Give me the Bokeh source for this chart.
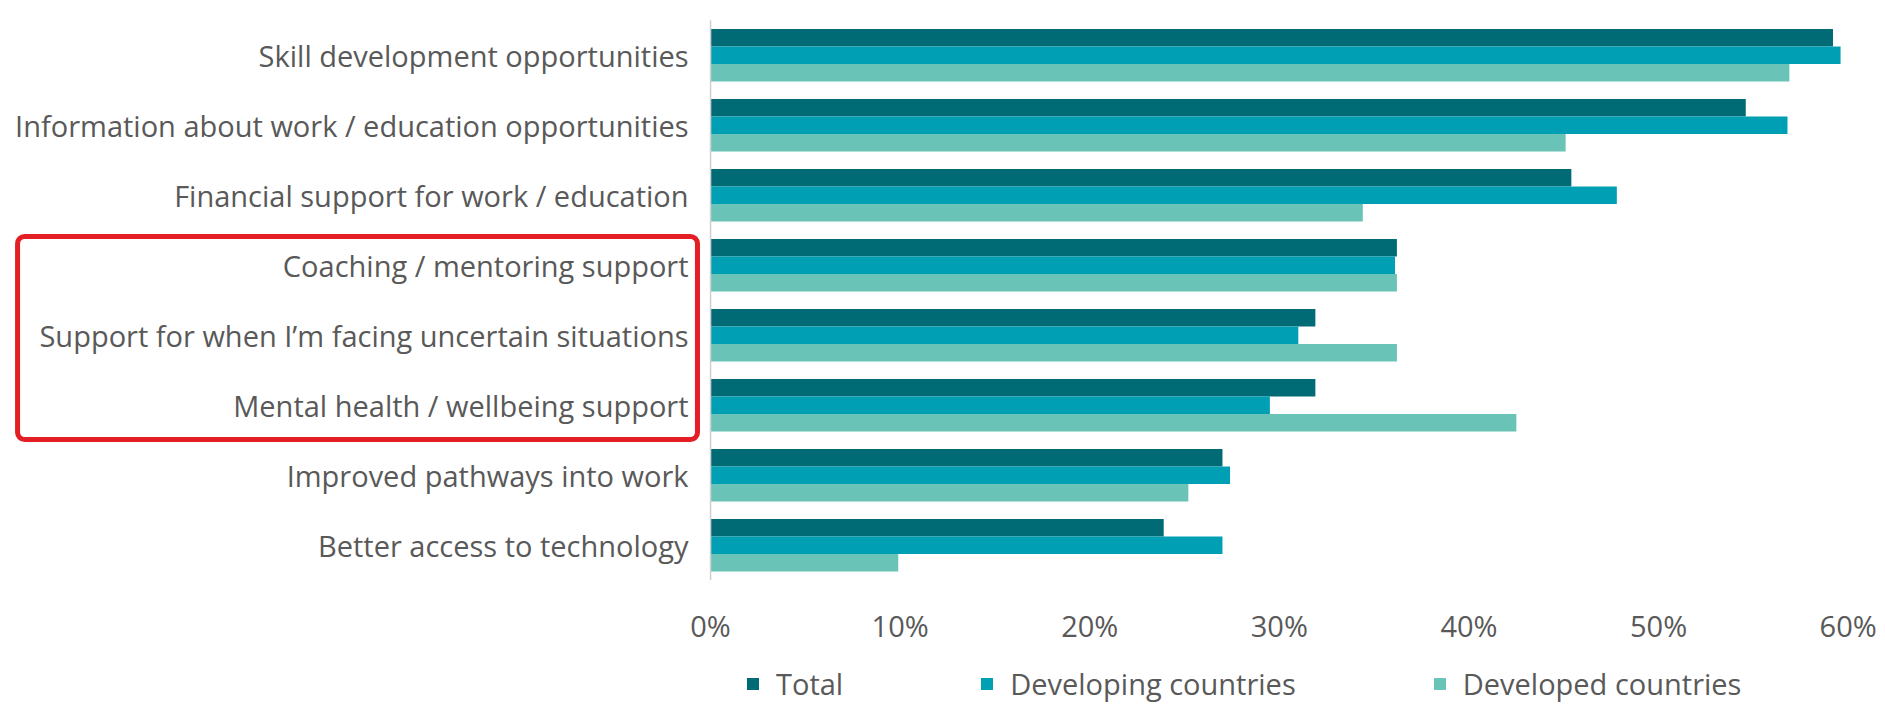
from bokeh.plotting import figure
from bokeh.layouts import column
from bokeh.models import (Range1d, FixedTicker, PrintfTickFormatter, Legend,
                          LegendItem, ColumnDataSource)
from bokeh.transform import dodge
from bokeh.core.properties import value
from bokeh.embed import file_html
from bokeh.resources import INLINE

categories = [
    "Skill development opportunities",
    "Information about work / education opportunities",
    "Financial support for work / education",
    "Coaching / mentoring support",
    "Support for when I\u2019m facing uncertain situations",
    "Mental health / wellbeing support",
    "Improved pathways into work",
    "Better access to technology",
]
total = [59.2, 54.6, 45.4, 36.2, 31.9, 31.9, 27.0, 23.9]
developing = [59.6, 56.8, 47.8, 36.1, 31.0, 29.5, 27.4, 27.0]
developed = [56.9, 45.1, 34.4, 36.2, 36.2, 42.5, 25.2, 9.9]
tick_values = [0, 10, 20, 30, 40, 50, 60]
series_names = ["Total", "Developing countries", "Developed countries"]
highlight = [3, 5]  # first and last highlighted category

FONT = "Open Sans"
TXT = "#595959"
COLORS = ["#016b75", "#009fb4", "#69c3b6"]
FS = "29px"

src = ColumnDataSource(dict(
    cat=categories,
    y=list(range(len(categories))),
    total=total,
    developing=developing,
    developed=developed,
))

p = figure(width=1885, height=647,
           x_range=Range1d(-37.45, 61.97),
           y_range=Range1d(7.504, -0.781),
           output_backend="svg", toolbar_location=None,
           y_axis_location=None,
           min_border_left=0, min_border_right=0,
           min_border_top=0, min_border_bottom=67)
p.outline_line_color = None
p.xgrid.visible = False
p.ygrid.visible = False
p.background_fill_color = "white"
p.border_fill_color = "white"

bh = 0.25
p.hbar(y=dodge("y", -bh), left=0, right="total", height=bh,
       fill_color=COLORS[0], line_color=None, source=src)
p.hbar(y=dodge("y", 0), left=0, right="developing", height=bh,
       fill_color=COLORS[1], line_color=None, source=src)
p.hbar(y=dodge("y", bh), left=0, right="developed", height=bh,
       fill_color=COLORS[2], line_color=None, source=src)

# vertical axis line
p.segment(x0=0, y0=-0.5, x1=0, y1=len(categories) - 0.5,
          line_color="#cfcfcf", line_width=1.5)

# category labels
p.text(x=-1.16, y="y", text="cat", source=src,
       text_align="right", text_baseline="middle",
       text_font=value(FONT), text_font_size=FS, text_color=TXT)

# red highlight box
p.quad(left=-36.55, right=-0.69, top=highlight[0] - 0.41, bottom=highlight[1] + 0.49,
       fill_alpha=0, line_color="#e31e24", line_width=5, border_radius=7)

ax = p.xaxis[0]
ax.ticker = FixedTicker(ticks=tick_values)
ax.formatter = PrintfTickFormatter(format="%d%%")
ax.axis_line_color = None
ax.major_tick_line_color = None
ax.minor_tick_line_color = None
ax.major_label_text_font = FONT
ax.major_label_text_font_size = FS
ax.major_label_text_color = TXT
ax.major_label_standoff = 19

# legend figure
q = figure(width=1885, height=61, x_range=Range1d(0, 1), y_range=Range1d(0, 1),
           output_backend="svg", toolbar_location=None,
           x_axis_location=None, y_axis_location=None,
           min_border=0)
q.outline_line_color = None
q.xgrid.visible = False
q.ygrid.visible = False
q.border_fill_color = "white"
q.background_fill_color = "white"
offscreen = ColumnDataSource(dict(y=[-5], right=[0]))
rs = [q.hbar(y="y", right="right", left=0, height=0.1, fill_color=c,
             line_color=None, source=offscreen) for c in COLORS]

legend = Legend(
    items=[LegendItem(label=n, renderers=[r]) for n, r in zip(series_names, rs)],
    orientation="horizontal", location=(745, 5),
    glyph_width=15, glyph_height=15, label_standoff=16, spacing=136,
    label_text_font=FONT, label_text_font_size=FS, label_text_color=TXT,
    padding=0, margin=0, border_line_color=None, background_fill_alpha=0,
)
q.add_layout(legend, "center")

layout = column(p, q, spacing=0)
open("out.html", "w").write(file_html(layout, INLINE))
